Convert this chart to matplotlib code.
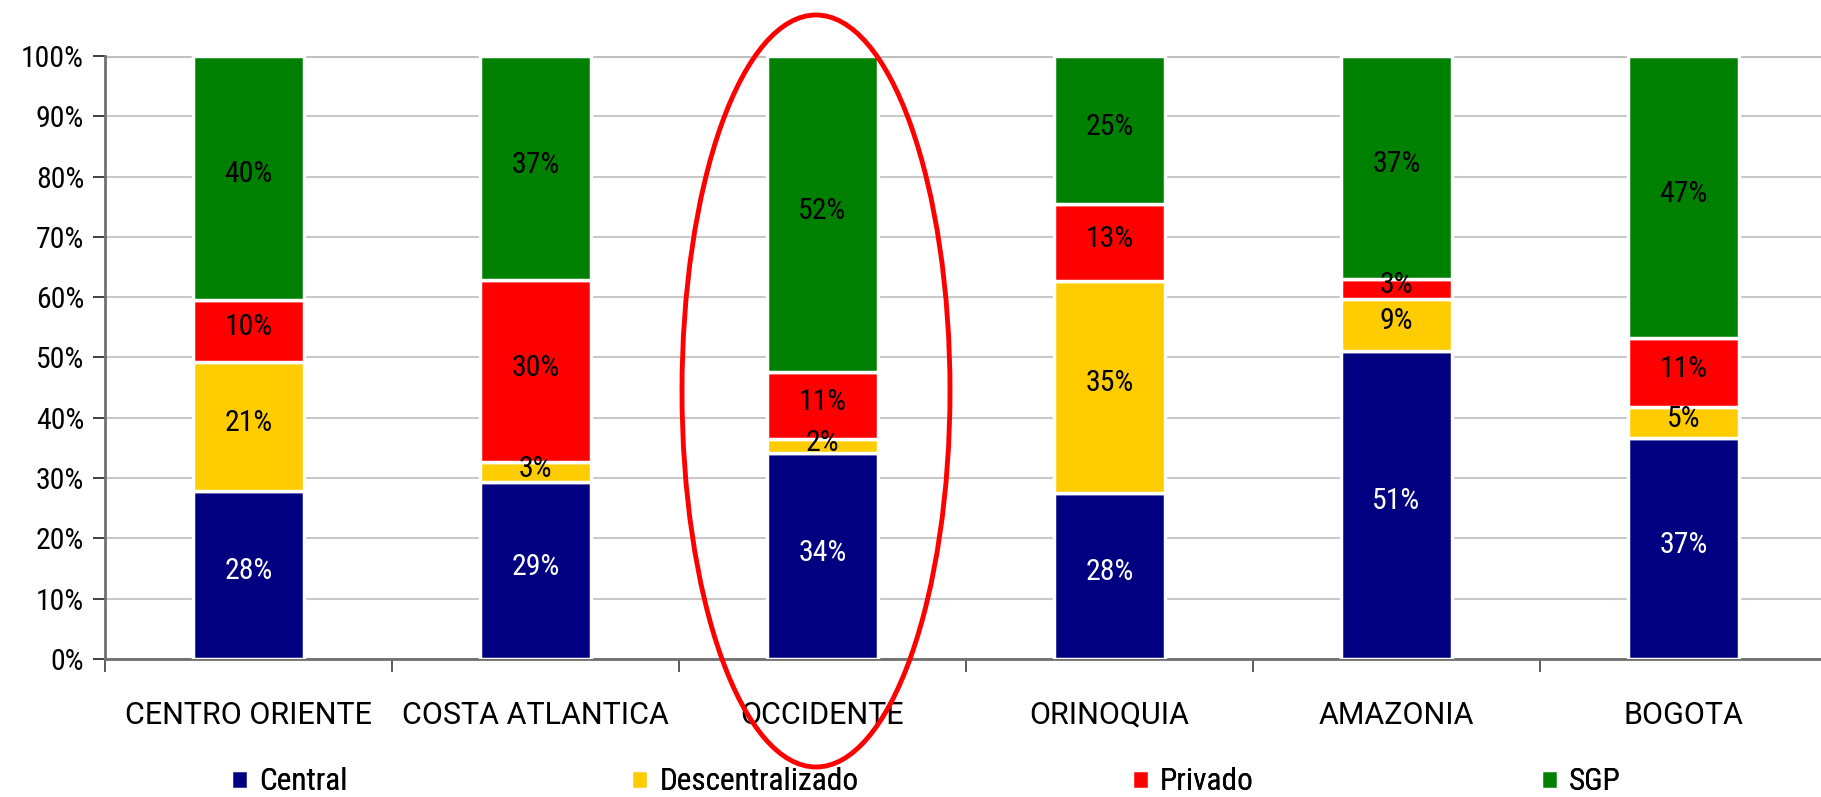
import numpy as np
import matplotlib
matplotlib.use("Agg")
import matplotlib.pyplot as plt
from matplotlib.patches import Ellipse

plt.rcParams['font.family'] = ['Roboto Condensed', 'Liberation Sans', 'DejaVu Sans']

regions = ['CENTRO ORIENTE', 'COSTA ATLANTICA', 'OCCIDENTE', 'ORINOQUIA', 'AMAZONIA', 'BOGOTA']
central = [27.9, 29.3, 34.1, 27.6, 51.1, 36.6]
descentralizado = [21.4, 3.4, 2.4, 35.1, 8.6, 5.2]
privado = [10.3, 30.1, 11.1, 12.7, 3.4, 11.4]
sgp = [40.4, 37.2, 52.4, 24.6, 36.9, 46.8]

series = [('Central', central, '#000080', 'white'),
          ('Descentralizado', descentralizado, '#FFCC00', 'black'),
          ('Privado', privado, '#FF0000', 'black'),
          ('SGP', sgp, '#008000', 'black')]
legend_x = [231, 631, 1132, 1541]  # left edge of each legend key, px

W, H = 1821, 797
fig = plt.figure(figsize=(W / 100, H / 100), dpi=100)
ax = fig.add_axes([105 / W, (H - 659) / H, 1722 / W, 603 / H])

x = np.arange(len(regions))
bottom = np.zeros(len(regions))
handles = []
for name, vals, color, tcolor in series:
    vals = np.array(vals)
    bars = ax.bar(x, vals, bottom=bottom, width=0.39, color=color,
                  edgecolor='white', linewidth=2.5, label=name, zorder=3)
    handles.append(bars)
    for xi, b, v in zip(x, bottom, vals):
        ax.annotate(f'{v:.0f}%', (xi, b + v / 2), xytext=(0, 2.5),
                    textcoords='offset points', ha='center', va='center',
                    fontsize=21.5, color=tcolor, zorder=4)
    bottom += vals

ax.set_xlim(-0.5, len(regions) - 0.5)
ax.set_ylim(0, 100)
ax.set_yticks(np.arange(0, 101, 10))
ax.set_yticklabels([f'{t}%' for t in range(0, 101, 10)], fontsize=21.5)
ax.yaxis.grid(True, color='#c8c8c8', linewidth=1.5, zorder=0)
ax.set_axisbelow(True)
ax.axhline(100, color='#c0c0c0', linewidth=3, zorder=1)

ax.set_xticks(x)
ax.set_xticklabels(regions, fontsize=22, family=['Roboto', 'Liberation Sans', 'DejaVu Sans'])
ax.tick_params(axis='x', length=0, pad=30)
ax.set_xticks(np.arange(-0.5, len(regions), 1), minor=True)
ax.tick_params(axis='x', which='minor', length=9, width=1.2, color='#404040')
ax.tick_params(axis='y', length=9, width=1.2, color='#202020', pad=6)

for s in ['top', 'right']:
    ax.spines[s].set_visible(False)
ax.spines['left'].set_color('#707070')
ax.spines['left'].set_linewidth(2)
ax.spines['bottom'].set_color('#707070')
ax.spines['bottom'].set_linewidth(2)

for h, (name, _, _, _), lx in zip(handles, series, legend_x):
    leg = fig.legend(handles=[h], labels=[name], loc='center left',
                     bbox_to_anchor=(lx / W, 1 - 782 / H), frameon=False,
                     fontsize=22.5, handlelength=0.55, handleheight=0.55,
                     handletextpad=0.35, borderpad=0, borderaxespad=0)
    fig.add_artist(leg)

ell = Ellipse((816 / W, 1 - 391 / H), 268 / W, 752 / H, transform=fig.transFigure,
              fill=False, edgecolor='#FF0000', linewidth=3.5, zorder=10)
fig.patches.append(ell)

fig.savefig('out.png', dpi=100)
